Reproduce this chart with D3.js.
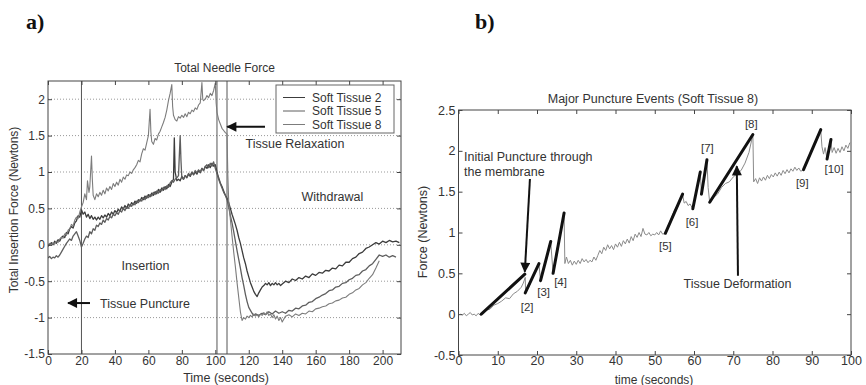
<!DOCTYPE html>
<html><head><meta charset="utf-8">
<script src="https://cdn.jsdelivr.net/npm/d3@7"></script>
<style>body{margin:0;background:#fff}svg{display:block}text{font-family:Arial,"Liberation Sans",sans-serif;fill:#333}</style>
</head><body><svg id="c" width="866" height="385"></svg>
<script>
// ---------- Panel a data: total needle force, [time s, force N] ----------
const seriesNames = ["Soft Tissue 2", "Soft Tissue 5", "Soft Tissue 8"];
const tissue2 = [[0,-0.02],[1,0],[2,0.03],[3,0],[4,0.05],[5,0.02],[6,0.07],[7,0.05],[8,0.1],[9,0.12],[10,0.1],[11,0.17],[12,0.15],[13,0.22],[14,0.25],[15,0.23],[16,0.3],[17,0.33],[18,0.4],[19,0.38],[20,0.48],[21,0.42],[22,0.45],[23,0.38],[24,0.42],[25,0.36],[26,0.4],[27,0.35],[28,0.38],[29,0.34],[30,0.38],[31,0.35],[32,0.4],[33,0.37],[34,0.41],[35,0.38],[36,0.43],[37,0.4],[38,0.45],[39,0.42],[40,0.47],[41,0.44],[42,0.49],[43,0.46],[44,0.52],[45,0.49],[46,0.54],[47,0.5],[48,0.56],[49,0.53],[50,0.58],[51,0.55],[52,0.6],[53,0.57],[54,0.62],[55,0.6],[56,0.65],[57,0.62],[58,0.67],[59,0.64],[60,0.69],[61,0.66],[62,0.71],[63,0.68],[64,0.73],[65,0.7],[66,0.76],[67,0.72],[68,0.78],[69,0.75],[70,0.8],[71,0.77],[72,0.83],[73,0.8],[74,0.86],[75,0.9],[75.5,1.47],[76,1.0],[77,0.88],[78,0.9],[79,0.88],[80,0.94],[81,0.9],[82,0.95],[83,0.92],[84,0.97],[85,0.94],[86,0.99],[87,0.96],[88,1.0],[89,0.97],[90,1.02],[91,0.99],[92,1.05],[93,1.02],[94,1.08],[95,1.05],[96,1.1],[97,1.06],[98,1.12],[99,1.08],[100,1.1],[101,1.0],[102,0.92],[103,0.85],[104,0.8],[105,0.74],[106,0.68],[107,0.64],[108,0.58],[109,0.5],[110,0.42],[111,0.35],[112,0.28],[113,0.2],[114,0.1],[115,0.02],[116,-0.08],[117,-0.18],[118,-0.26],[119,-0.36],[120,-0.44],[121,-0.52],[122,-0.58],[123,-0.64],[124,-0.68],[125,-0.71],[126,-0.66],[127,-0.62],[128,-0.58],[129,-0.56],[130,-0.53],[131,-0.55],[132,-0.52],[133,-0.56],[134,-0.53],[135,-0.55],[136,-0.52],[137,-0.55],[138,-0.53],[139,-0.56],[140,-0.54],[142,-0.5],[144,-0.52],[146,-0.47],[148,-0.49],[150,-0.45],[152,-0.47],[154,-0.43],[156,-0.45],[158,-0.4],[160,-0.42],[162,-0.38],[164,-0.39],[166,-0.35],[168,-0.36],[170,-0.32],[172,-0.33],[174,-0.28],[176,-0.29],[178,-0.24],[180,-0.24],[182,-0.19],[184,-0.17],[186,-0.12],[188,-0.1],[190,-0.05],[192,-0.03],[194,0],[196,0.03],[198,0.01],[200,0.05],[202,0.03],[204,0.06],[206,0.04],[208,0.05],[210,0.03]];
const tissue5 = [[0,-0.18],[1,-0.16],[2,-0.19],[3,-0.17],[4,-0.18],[5,-0.15],[6,-0.17],[7,-0.14],[8,-0.1],[9,-0.06],[10,-0.02],[11,0.02],[12,0.05],[13,0.08],[14,0.06],[15,0.12],[16,0.15],[17,0.18],[18,0.12],[19,0.06],[20,-0.03],[21,0.02],[22,0.08],[23,0.12],[24,0.1],[25,0.18],[26,0.15],[27,0.22],[28,0.2],[29,0.27],[30,0.25],[31,0.3],[32,0.28],[33,0.34],[34,0.31],[35,0.36],[36,0.34],[37,0.39],[38,0.37],[39,0.42],[40,0.4],[41,0.44],[42,0.42],[43,0.47],[44,0.45],[45,0.5],[46,0.47],[47,0.52],[48,0.5],[49,0.55],[50,0.53],[51,0.57],[52,0.55],[53,0.6],[54,0.58],[55,0.62],[56,0.6],[57,0.65],[58,0.62],[59,0.67],[60,0.65],[61,0.69],[62,0.67],[63,0.72],[64,0.69],[65,0.74],[66,0.71],[67,0.76],[68,0.74],[69,0.79],[70,0.76],[71,0.81],[72,0.79],[73,0.85],[74,0.88],[75,0.86],[76,0.9],[77,0.92],[78,0.95],[79,1.5],[79.5,1.15],[80,0.92],[81,0.9],[82,0.95],[83,0.93],[84,0.98],[85,0.95],[86,1.0],[87,0.97],[88,1.02],[89,0.99],[90,1.03],[91,1.0],[92,1.05],[93,1.02],[94,1.07],[95,1.1],[96,1.06],[97,1.12],[98,1.08],[99,1.14],[100,1.05],[101,0.98],[102,0.9],[103,0.84],[104,0.78],[105,0.72],[106,0.68],[107,0.62],[108,0.52],[109,0.4],[110,0.3],[111,0.18],[112,0.05],[113,-0.08],[114,-0.2],[115,-0.32],[116,-0.45],[117,-0.56],[118,-0.68],[119,-0.78],[120,-0.86],[121,-0.9],[122,-0.94],[123,-0.97],[124,-0.95],[126,-0.97],[128,-0.94],[130,-0.96],[132,-0.92],[134,-0.95],[136,-0.91],[138,-0.94],[140,-0.92],[142,-0.94],[144,-0.9],[146,-0.91],[148,-0.87],[150,-0.88],[152,-0.84],[154,-0.83],[156,-0.79],[158,-0.78],[160,-0.74],[162,-0.72],[164,-0.69],[166,-0.67],[168,-0.63],[170,-0.62],[172,-0.58],[174,-0.57],[176,-0.53],[178,-0.52],[180,-0.48],[182,-0.46],[184,-0.42],[186,-0.41],[188,-0.36],[190,-0.34],[192,-0.29],[194,-0.26],[196,-0.2],[198,-0.14],[200,-0.16],[202,-0.14],[204,-0.17],[206,-0.15],[208,-0.17]];
const tissue8 = [[0,0],[1,0.02],[2,-0.01],[3,0.03],[4,0.01],[5,0.05],[6,0.03],[7,0.08],[8,0.1],[9,0.09],[10,0.15],[11,0.13],[12,0.2],[13,0.22],[14,0.28],[15,0.26],[16,0.34],[17,0.38],[18,0.36],[19,0.45],[20,0.52],[21,0.58],[22,0.7],[23,0.62],[23.6,0.88],[24.5,0.72],[25,0.8],[26,1.22],[26.5,0.9],[27,0.68],[28,0.62],[29,0.7],[30,0.66],[31,0.72],[32,0.68],[33,0.75],[34,0.7],[35,0.78],[36,0.74],[37,0.8],[38,0.76],[39,0.84],[40,0.8],[41,0.86],[42,0.82],[43,0.9],[44,0.86],[45,0.93],[46,0.9],[47,0.96],[48,0.95],[49,1.0],[50,0.98],[51,1.03],[52,1.06],[53,1.1],[54,1.16],[55,1.14],[56,1.25],[57,1.32],[58,1.3],[59,1.4],[60,1.5],[61,1.86],[61.5,1.55],[62,1.42],[63,1.38],[64,1.46],[65,1.44],[66,1.52],[67,1.56],[68,1.62],[69,1.68],[70,1.75],[71,1.85],[72,1.98],[73,2.08],[74,2.2],[74.5,1.9],[75,1.78],[76,1.72],[77,1.7],[78,1.76],[79,1.74],[80,1.78],[81,1.75],[82,1.8],[83,1.76],[84,1.82],[85,1.8],[86,1.85],[87,1.83],[88,1.88],[89,1.86],[90,1.92],[91,1.95],[92,2.23],[92.5,2.0],[93,1.98],[94,2.0],[95,2.05],[96,2.02],[97,2.08],[98,2.05],[99,2.12],[100,2.22],[100.5,1.95],[101,1.82],[102,1.72],[103,1.66],[104,1.6],[105,1.57],[106,1.54],[107,1.52],[107.5,0.95],[108,0.6],[109,0.35],[110,0.12],[111,-0.1],[112,-0.3],[113,-0.52],[114,-0.72],[115,-0.92],[116,-1.04],[117,-1.0],[118,-1.02],[119,-0.98],[120,-1.0],[121,-0.97],[122,-0.99],[123,-0.95],[124,-0.98],[125,-0.96],[126,-0.99],[127,-0.95],[128,-0.97],[129,-0.93],[130,-0.96],[131,-0.92],[132,-0.97],[133,-0.95],[134,-1.0],[135,-0.96],[136,-1.02],[137,-0.98],[138,-1.04],[139,-1.0],[140,-1.06],[141,-1.02],[142,-0.98],[144,-0.96],[146,-0.99],[148,-0.95],[150,-0.97],[152,-0.94],[154,-0.95],[156,-0.91],[158,-0.92],[160,-0.88],[162,-0.87],[164,-0.85],[166,-0.84],[168,-0.81],[170,-0.8],[172,-0.77],[174,-0.76],[176,-0.73],[178,-0.72],[180,-0.68],[182,-0.66],[184,-0.62],[186,-0.6],[188,-0.55],[190,-0.52],[192,-0.46],[194,-0.41],[196,-0.32],[198,-0.22]];
const seriesColors = ["#3c3c3c", "#5e5e5e", "#7c7c7c"];
const aXTicks = [0,20,40,60,80,100,120,140,160,180,200];
const aYTicks = [-1.5,-1,-0.5,0,0.5,1,1.5,2];
const aPhaseLines = [20, 101, 107];
const aNotes = [
  {text:"Tissue Relaxation", t:147.6, f:1.385, anchor:"middle"},
  {text:"Withdrawal", t:170, f:0.67, anchor:"middle"},
  {text:"Insertion", t:58.3, f:-0.28, anchor:"middle"},
  {text:"Tissue Puncture", t:31.1, f:-0.80, anchor:"start"}
];
const aArrows = [{t0:129.7,f0:1.62,t1:107.2,f1:1.62},{t0:25.1,f0:-0.80,t1:12,f1:-0.80}];

// ---------- Panel b data: Soft Tissue 8, first 100 s ----------
const bTrace = [[0.5,0],[1,-0.01],[1.5,0.01],[2,-0.02],[2.5,0],[3,0.02],[3.5,-0.01],[4,0],[4.5,-0.02],[5,0.01],[5.5,-0.01],[6,0],[7,0.05],[8,0.06],[9,0.11],[10,0.13],[11,0.16],[12,0.2],[13,0.19],[14,0.25],[15,0.28],[16,0.33],[16.5,0.38],[17,0.45],[17.1,0.26],[18,0.34],[19,0.47],[20.5,0.61],[20.9,0.41],[22,0.62],[23.5,0.88],[24.1,0.5],[25,0.78],[26,1.0],[26.9,1.22],[27.1,0.62],[27.5,0.7],[28,0.62],[28.5,0.66],[29,0.6],[29.5,0.65],[30,0.61],[30.5,0.66],[31,0.62],[31.5,0.68],[32,0.64],[32.5,0.67],[33,0.63],[33.5,0.66],[34,0.64],[34.5,0.7],[35,0.66],[35.5,0.72],[36,0.78],[36.5,0.74],[37,0.82],[37.5,0.78],[38,0.85],[38.5,0.8],[39,0.84],[39.5,0.79],[40,0.86],[40.5,0.82],[41,0.88],[41.5,0.83],[42,0.9],[42.5,0.86],[43,0.92],[43.5,0.87],[44,0.95],[44.5,0.9],[45,0.98],[45.5,0.94],[46,1.0],[46.5,0.95],[47,1.05],[47.5,0.98],[48,0.97],[48.5,1.0],[49,0.96],[49.5,0.98],[50,0.97],[50.5,1.0],[51,0.97],[51.5,1.02],[52,0.98],[52.7,0.99],[54,1.15],[55,1.27],[56,1.36],[57.1,1.46],[57.5,1.36],[58,1.38],[58.5,1.33],[59,1.35],[59.7,1.29],[60.5,1.5],[61.6,1.73],[61.9,1.47],[62.5,1.65],[63.3,1.88],[63.6,1.55],[64,1.37],[65,1.43],[66,1.47],[67,1.55],[68,1.6],[69,1.62],[70,1.68],[71,1.72],[72,1.76],[73,1.85],[74,1.98],[75,2.2],[75.2,1.62],[75.7,1.66],[76.2,1.6],[76.7,1.67],[77.2,1.63],[77.7,1.68],[78.2,1.64],[78.7,1.7],[79.2,1.66],[79.7,1.71],[80.2,1.68],[80.7,1.73],[81.2,1.69],[81.7,1.74],[82.2,1.7],[82.7,1.76],[83.2,1.72],[83.7,1.77],[84.2,1.73],[84.7,1.78],[85.2,1.75],[85.7,1.8],[86.2,1.76],[86.7,1.79],[87.2,1.75],[87.9,1.77],[89,1.9],[90,2.02],[91,2.1],[92.3,2.25],[92.6,2.05],[93,1.96],[93.4,2.04],[93.9,1.9],[94.9,2.12],[95.2,1.98],[95.7,2.04],[96.2,1.97],[96.7,2.03],[97.2,1.98],[97.7,2.05],[98.2,2],[98.7,2.07],[99.2,2.03],[99.7,2.1]];
// puncture event fits: [t0, f0, t1, f1]
const bEvents = [[5.8,0,16.9,0.49],[17,0.26,20.5,0.62],[20.9,0.41,23.5,0.89],[24.1,0.5,26.9,1.24],[52.7,0.99,57.1,1.47],[59.7,1.29,61.6,1.74],[61.9,1.47,63.3,1.89],[64,1.37,75,2.2],[87.9,1.77,92.3,2.26],[93.9,1.9,94.9,2.14]];
const bEventLabels = ["[2]","[3]","[4]","[5]","[6]","[7]","[8]","[9]","[10]"];
const bEventLabelPos = [[17.5,0.09],[21.7,0.27],[26.0,0.40],[52.7,0.84],[59.5,1.13],[63.4,2.03],[74.6,2.33],[87.6,1.61],[95.7,1.78]];
const bXTicks = [0,10,20,30,40,50,60,70,80,90,100];
const bYTicks = [-0.5,0,0.5,1,1.5,2,2.5];
const bNotes = [
  {text:"Initial Puncture through", t:1.4, f:1.93, anchor:"start"},
  {text:"the membrane", t:1.4, f:1.745, anchor:"start"},
  {text:"Tissue Deformation", t:71.1, f:0.37, anchor:"middle"}
];
const bArrows = [{t0:18.2,f0:1.655,t1:16.9,f1:0.52},{t0:71.2,f0:0.47,t1:70.9,f1:1.81}];

// ---------- drawing ----------
const svg = d3.select("#c");
const defs = svg.append("defs");
defs.append("marker").attr("id","ah").attr("viewBox","0 0 10 10").attr("refX",9).attr("refY",5)
  .attr("markerWidth",6).attr("markerHeight",5).attr("markerUnits","strokeWidth").attr("orient","auto")
  .append("path").attr("d","M0,0L10,5L0,10Z").attr("fill","#111");

svg.append("text").attr("x",26).attr("y",29).text("a)")
  .style("font-family","'Liberation Serif','DejaVu Serif',serif").style("font-weight","bold").style("font-size","22px").style("fill","#111");
svg.append("text").attr("x",475).attr("y",29).text("b)")
  .style("font-family","'Liberation Serif','DejaVu Serif',serif").style("font-weight","bold").style("font-size","22px").style("fill","#111");

function frameAxes(g, x, y, xt, yt, fs, xpad, ypad){
  const [x0,x1] = x.range(), [y0,y1] = y.range();
  const fmt = d => String(d);
  g.append("g").attr("transform",`translate(0,${y0})`).call(d3.axisBottom(x).tickValues(xt).tickFormat(fmt).tickSizeInner(-4).tickSizeOuter(0).tickPadding(xpad))
   .call(s=>{s.select(".domain").remove(); s.selectAll("text").style("font-size",fs).style("fill","#333").style("font-family","Arial,'Liberation Sans',sans-serif");});
  g.append("g").attr("transform",`translate(0,${y1})`).call(d3.axisTop(x).tickValues(xt).tickFormat("").tickSizeInner(-4).tickSizeOuter(0))
   .call(s=>s.select(".domain").remove());
  g.append("g").attr("transform",`translate(${x0},0)`).call(d3.axisLeft(y).tickValues(yt).tickFormat(fmt).tickSizeInner(-4).tickSizeOuter(0).tickPadding(ypad))
   .call(s=>{s.select(".domain").remove(); s.selectAll("text").style("font-size",fs).style("fill","#333").style("font-family","Arial,'Liberation Sans',sans-serif");});
  g.append("g").attr("transform",`translate(${x1},0)`).call(d3.axisRight(y).tickValues(yt).tickFormat("").tickSizeInner(-4).tickSizeOuter(0))
   .call(s=>s.select(".domain").remove());
  g.selectAll(".tick line").attr("stroke","#444");
  g.append("rect").attr("x",x0).attr("y",y1).attr("width",x1-x0).attr("height",y0-y1)
   .attr("fill","none").attr("stroke","#444").attr("stroke-width",1);
}

// Panel a
const ax = d3.scaleLinear().domain([0,211]).range([48,401]);
const ay = d3.scaleLinear().domain([-1.5,2.25]).range([354,81]);
const ga = svg.append("g");
defs.append("clipPath").attr("id","clipA").append("rect").attr("x",48).attr("y",81).attr("width",353).attr("height",273);
ga.selectAll("line.grid").data(aYTicks.filter(d=>d>-1.5)).join("line").attr("class","grid")
  .attr("x1",ax(0)).attr("x2",ax(211)).attr("y1",d=>ay(d)).attr("y2",d=>ay(d))
  .attr("stroke","#999").attr("stroke-width",1).attr("stroke-dasharray","1,2");
ga.selectAll("line.phase").data(aPhaseLines).join("line").attr("class","phase")
  .attr("x1",d=>ax(d)).attr("x2",d=>ax(d)).attr("y1",ay(2.25)).attr("y2",ay(-1.5))
  .attr("stroke","#555").attr("stroke-width",1);
const lineA = d3.line().x(d=>ax(d[0])).y(d=>ay(d[1]));
const aSeries = [tissue2, tissue5, tissue8];
ga.append("g").attr("clip-path","url(#clipA)").selectAll("path").data(aSeries).join("path")
  .attr("d",lineA).attr("fill","none").attr("stroke",(d,i)=>seriesColors[i]).attr("stroke-width",(d,i)=>i<2?1.3:1.1).attr("stroke-linejoin","round");
frameAxes(ga, ax, ay, aXTicks, aYTicks, "12px", 2, 3);
svg.append("text").attr("x",(ax(0)+ax(211))/2).attr("y",72).attr("text-anchor","middle").style("font-size","12px").text("Total Needle Force");
svg.append("text").attr("x",226).attr("y",382).attr("text-anchor","middle").style("font-size","12.5px").text("Time (seconds)");
svg.append("text").attr("transform","translate(18,210) rotate(-90)").attr("text-anchor","middle").style("font-size","12px").text("Total Insertion Force (Newtons)");
// legend
const lg = svg.append("g");
lg.append("rect").attr("x",276).attr("y",85).attr("width",118).attr("height",48).attr("fill","#fff").attr("stroke","#666");
seriesNames.forEach((n,i)=>{
  const yy = 97.5 + i*13.5;
  lg.append("line").attr("x1",283).attr("x2",305).attr("y1",yy).attr("y2",yy).attr("stroke",seriesColors[i]).attr("stroke-width",1);
  lg.append("text").attr("x",312).attr("y",yy+4.2).style("font-size","12px").text(n);
});
ga.selectAll("text.note").data(aNotes).join("text").attr("class","note")
  .attr("x",d=>ax(d.t)).attr("y",d=>ay(d.f)+4.5).attr("text-anchor",d=>d.anchor).style("font-size","12.5px").text(d=>d.text);
ga.selectAll("line.arrow").data(aArrows).join("line").attr("class","arrow")
  .attr("x1",d=>ax(d.t0)).attr("y1",d=>ay(d.f0)).attr("x2",d=>ax(d.t1)).attr("y2",d=>ay(d.f1))
  .attr("stroke","#111").attr("stroke-width",2).attr("marker-end","url(#ah)");

// Panel b
const bx = d3.scaleLinear().domain([0,100]).range([458.5,851]);
const by = d3.scaleLinear().domain([-0.5,2.5]).range([355,110]);
const gb = svg.append("g");
defs.append("clipPath").attr("id","clipB").append("rect").attr("x",458.5).attr("y",110).attr("width",392.5).attr("height",245);
const lineB = d3.line().x(d=>bx(d[0])).y(d=>by(d[1]));
gb.append("path").datum(bTrace).attr("clip-path","url(#clipB)").attr("d",lineB).attr("fill","none")
  .attr("stroke","#8a8a8a").attr("stroke-width",1).attr("stroke-linejoin","round");
gb.selectAll("line.ev").data(bEvents).join("line").attr("class","ev")
  .attr("x1",d=>bx(d[0])).attr("y1",d=>by(d[1])).attr("x2",d=>bx(d[2])).attr("y2",d=>by(d[3]))
  .attr("stroke","#111").attr("stroke-width",3).attr("stroke-linecap","round");
frameAxes(gb, bx, by, bXTicks, bYTicks, "12.5px", 1, 3);
gb.selectAll("text.evl").data(bEventLabelPos).join("text").attr("class","evl")
  .attr("x",d=>bx(d[0])).attr("y",d=>by(d[1])+4).attr("text-anchor","middle").style("font-size","11.5px").text((d,i)=>bEventLabels[i]);
gb.selectAll("text.note").data(bNotes).join("text").attr("class","note")
  .attr("x",d=>bx(d.t)).attr("y",d=>by(d.f)+4.5).attr("text-anchor",d=>d.anchor).style("font-size","12.5px").text(d=>d.text);
gb.selectAll("line.arrow").data(bArrows).join("line").attr("class","arrow")
  .attr("x1",d=>bx(d.t0)).attr("y1",d=>by(d.f0)).attr("x2",d=>bx(d.t1)).attr("y2",d=>by(d.f1))
  .attr("stroke","#111").attr("stroke-width",2).attr("marker-end","url(#ah)");
svg.append("text").attr("x",653).attr("y",102.5).attr("text-anchor","middle").style("font-size","12.5px").text("Major Puncture Events (Soft Tissue 8)");
svg.append("text").attr("x",654).attr("y",383.5).attr("text-anchor","middle").style("font-size","12px").text("time (seconds)");
svg.append("text").attr("transform","translate(427,232) rotate(-90)").attr("text-anchor","middle").style("font-size","12.5px").text("Force (Newtons)");
</script></body></html>
